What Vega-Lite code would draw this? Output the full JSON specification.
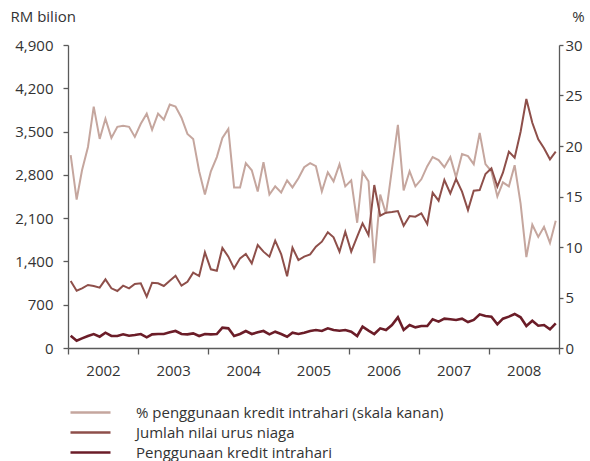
{
  "$schema": "https://vega.github.io/schema/vega-lite/v6.json",
  "autosize": {"type": "none"},
  "width": 491,
  "height": 303,
  "padding": {"left": 68, "top": 45, "right": 31, "bottom": 113},
  "background": "white",
  "config": {
    "view": {"stroke": null},
    "font": "Open Sans",
    "axis": {
      "domainColor": "#5a5a5a",
      "domainWidth": 1.3,
      "tickColor": "#5a5a5a",
      "tickWidth": 1.3,
      "tickSize": 5,
      "labelFont": "Open Sans",
      "labelFontSize": 15,
      "labelColor": "#333333",
      "titleFont": "Open Sans",
      "titleFontSize": 15,
      "titleFontWeight": "normal",
      "titleColor": "#333333",
      "grid": false
    }
  },
  "data": {
    "values": [
      {"d": "2002-01-15", "p": 19.1, "j": 1083, "k": 199},
      {"d": "2002-02-15", "p": 14.7, "j": 927, "k": 118},
      {"d": "2002-03-15", "p": 17.6, "j": 965, "k": 156},
      {"d": "2002-04-15", "p": 19.9, "j": 1019, "k": 194},
      {"d": "2002-05-15", "p": 23.9, "j": 1003, "k": 226},
      {"d": "2002-06-15", "p": 20.7, "j": 976, "k": 183},
      {"d": "2002-07-15", "p": 22.7, "j": 1110, "k": 248},
      {"d": "2002-08-15", "p": 20.8, "j": 965, "k": 194},
      {"d": "2002-09-15", "p": 21.9, "j": 922, "k": 194},
      {"d": "2002-10-15", "p": 22.0, "j": 1008, "k": 221},
      {"d": "2002-11-15", "p": 21.9, "j": 965, "k": 199},
      {"d": "2002-12-15", "p": 20.9, "j": 1035, "k": 210},
      {"d": "2003-01-15", "p": 22.2, "j": 1046, "k": 226},
      {"d": "2003-02-15", "p": 23.2, "j": 830, "k": 172},
      {"d": "2003-03-15", "p": 21.6, "j": 1056, "k": 221},
      {"d": "2003-04-15", "p": 23.2, "j": 1046, "k": 226},
      {"d": "2003-05-15", "p": 22.6, "j": 1003, "k": 226},
      {"d": "2003-06-15", "p": 24.1, "j": 1088, "k": 253},
      {"d": "2003-07-15", "p": 23.9, "j": 1169, "k": 275},
      {"d": "2003-08-15", "p": 22.8, "j": 1008, "k": 226},
      {"d": "2003-09-15", "p": 21.2, "j": 1072, "k": 221},
      {"d": "2003-10-15", "p": 20.7, "j": 1218, "k": 237},
      {"d": "2003-11-15", "p": 17.5, "j": 1164, "k": 194},
      {"d": "2003-12-15", "p": 15.2, "j": 1547, "k": 226},
      {"d": "2004-01-15", "p": 17.5, "j": 1272, "k": 221},
      {"d": "2004-02-15", "p": 18.9, "j": 1250, "k": 226},
      {"d": "2004-03-15", "p": 20.8, "j": 1620, "k": 329},
      {"d": "2004-04-15", "p": 21.7, "j": 1477, "k": 318},
      {"d": "2004-05-15", "p": 15.9, "j": 1288, "k": 194},
      {"d": "2004-06-15", "p": 15.9, "j": 1450, "k": 226},
      {"d": "2004-07-15", "p": 18.3, "j": 1520, "k": 275},
      {"d": "2004-08-15", "p": 17.6, "j": 1369, "k": 226},
      {"d": "2004-09-15", "p": 15.5, "j": 1666, "k": 253},
      {"d": "2004-10-15", "p": 18.4, "j": 1558, "k": 275},
      {"d": "2004-11-15", "p": 15.2, "j": 1477, "k": 221},
      {"d": "2004-12-15", "p": 16.0, "j": 1736, "k": 264},
      {"d": "2005-01-15", "p": 15.4, "j": 1520, "k": 226},
      {"d": "2005-02-15", "p": 16.6, "j": 1160, "k": 183},
      {"d": "2005-03-15", "p": 15.9, "j": 1622, "k": 248},
      {"d": "2005-04-15", "p": 16.8, "j": 1423, "k": 226},
      {"d": "2005-05-15", "p": 17.9, "j": 1477, "k": 248},
      {"d": "2005-06-15", "p": 18.3, "j": 1515, "k": 275},
      {"d": "2005-07-15", "p": 18.0, "j": 1638, "k": 291},
      {"d": "2005-08-15", "p": 15.5, "j": 1719, "k": 275},
      {"d": "2005-09-15", "p": 17.4, "j": 1871, "k": 318},
      {"d": "2005-10-15", "p": 16.5, "j": 1790, "k": 291},
      {"d": "2005-11-15", "p": 18.2, "j": 1558, "k": 280},
      {"d": "2005-12-15", "p": 16.0, "j": 1881, "k": 291},
      {"d": "2006-01-15", "p": 16.6, "j": 1558, "k": 264},
      {"d": "2006-02-15", "p": 12.4, "j": 1800, "k": 194},
      {"d": "2006-03-15", "p": 17.4, "j": 2016, "k": 345},
      {"d": "2006-04-15", "p": 16.5, "j": 1827, "k": 280},
      {"d": "2006-05-15", "p": 8.4, "j": 2636, "k": 226},
      {"d": "2006-06-15", "p": 15.2, "j": 2140, "k": 318},
      {"d": "2006-07-15", "p": 13.3, "j": 2188, "k": 291},
      {"d": "2006-08-15", "p": 17.7, "j": 2199, "k": 372},
      {"d": "2006-09-15", "p": 22.1, "j": 2215, "k": 496},
      {"d": "2006-10-15", "p": 15.6, "j": 1978, "k": 291},
      {"d": "2006-11-15", "p": 17.5, "j": 2134, "k": 372},
      {"d": "2006-12-15", "p": 16.0, "j": 2123, "k": 334},
      {"d": "2007-01-15", "p": 16.7, "j": 2178, "k": 356},
      {"d": "2007-02-15", "p": 18.0, "j": 2005, "k": 356},
      {"d": "2007-03-15", "p": 18.9, "j": 2511, "k": 464},
      {"d": "2007-04-15", "p": 18.6, "j": 2382, "k": 426},
      {"d": "2007-05-15", "p": 17.9, "j": 2717, "k": 474},
      {"d": "2007-06-15", "p": 18.9, "j": 2501, "k": 464},
      {"d": "2007-07-15", "p": 16.9, "j": 2733, "k": 453},
      {"d": "2007-08-15", "p": 19.2, "j": 2528, "k": 474},
      {"d": "2007-09-15", "p": 19.0, "j": 2231, "k": 420},
      {"d": "2007-10-15", "p": 18.2, "j": 2544, "k": 453},
      {"d": "2007-11-15", "p": 21.3, "j": 2555, "k": 544},
      {"d": "2007-12-15", "p": 18.2, "j": 2814, "k": 517},
      {"d": "2008-01-15", "p": 17.5, "j": 2906, "k": 507},
      {"d": "2008-02-15", "p": 15.0, "j": 2609, "k": 383},
      {"d": "2008-03-15", "p": 16.4, "j": 2835, "k": 474},
      {"d": "2008-04-15", "p": 16.0, "j": 3175, "k": 507},
      {"d": "2008-05-15", "p": 18.1, "j": 3077, "k": 550},
      {"d": "2008-06-15", "p": 14.3, "j": 3498, "k": 496},
      {"d": "2008-07-15", "p": 9.0, "j": 4026, "k": 356},
      {"d": "2008-08-15", "p": 12.2, "j": 3643, "k": 442},
      {"d": "2008-09-15", "p": 11.0, "j": 3374, "k": 361},
      {"d": "2008-10-15", "p": 12.0, "j": 3229, "k": 372},
      {"d": "2008-11-15", "p": 10.4, "j": 3051, "k": 302},
      {"d": "2008-12-15", "p": 12.6, "j": 3175, "k": 399}
    ]
  },
  "encoding": {
    "x": {
      "field": "d",
      "type": "temporal",
      "scale": {
        "type": "utc",
        "domain": [
          {"year": 2002, "month": 1, "date": 1, "utc": true},
          {"year": 2009, "month": 1, "date": 1, "utc": true}
        ]
      },
      "axis": {
        "title": null,
        "values": [
          {"year": 2002, "month": 1, "date": 1, "utc": true},
          {"year": 2003, "month": 1, "date": 1, "utc": true},
          {"year": 2004, "month": 1, "date": 1, "utc": true},
          {"year": 2005, "month": 1, "date": 1, "utc": true},
          {"year": 2006, "month": 1, "date": 1, "utc": true},
          {"year": 2007, "month": 1, "date": 1, "utc": true},
          {"year": 2008, "month": 1, "date": 1, "utc": true},
          {"year": 2009, "month": 1, "date": 1, "utc": true}
        ],
        "format": "%Y",
        "formatType": "utc",
        "labelExpr": "datum.label == '2009' ? '' : datum.label",
        "labelOffset": 35,
        "labelAlign": "center",
        "labelPadding": 9,
        "tickSize": 6,
        "labelFlush": false,
        "labelOverlap": false
      }
    }
  },
  "layer": [
    {
      "mark": {"type": "line", "strokeWidth": 2},
      "encoding": {
        "y": {
          "field": "p",
          "type": "quantitative",
          "scale": {"domain": [0, 30], "nice": false},
          "axis": {
            "orient": "right",
            "values": [0, 5, 10, 15, 20, 25, 30],
            "title": "%",
            "titleAngle": 0,
            "titleAlign": "center",
            "titleBaseline": "alphabetic",
            "titleX": 19,
            "titleY": -24,
            "labelPadding": 2,
            "tickSize": 4
          }
        },
        "color": {
          "datum": "p",
          "type": "nominal",
          "scale": {
            "domain": ["p", "j", "k"],
            "range": ["#c5a69e", "#8e4f4a", "#6b1d28"]
          },
          "legend": {
            "orient": "none",
            "legendX": 15,
            "legendY": 360,
            "padding": 0,
            "title": null,
            "symbolType": "M-4,0L4,0",
            "symbolSize": 100,
            "symbolStrokeWidth": 2.5,
            "labelFont": "Open Sans",
            "labelFontSize": 15,
            "labelColor": "#333333",
            "labelOffset": 38,
            "rowPadding": 4,
            "labelLimit": 500,
            "labelExpr": "datum.value == 'p' ? '% penggunaan kredit intrahari (skala kanan)' : datum.value == 'j' ? 'Jumlah nilai urus niaga' : 'Penggunaan kredit intrahari'"
          }
        }
      }
    },
    {
      "mark": {"type": "line", "strokeWidth": 2},
      "encoding": {
        "y": {
          "field": "j",
          "type": "quantitative",
          "scale": {"domain": [0, 4900], "nice": false},
          "axis": {
            "orient": "left",
            "values": [0, 700, 1400, 2100, 2800, 3500, 4200, 4900],
            "format": ",d",
            "title": "RM bilion",
            "titleAngle": 0,
            "titleAlign": "left",
            "titleBaseline": "alphabetic",
            "titleX": -58,
            "titleY": -24,
            "labelPadding": 10,
            "tickSize": 5
          }
        },
        "color": {"datum": "j", "type": "nominal"}
      }
    },
    {
      "mark": {"type": "line", "strokeWidth": 2.6},
      "encoding": {
        "y": {
          "field": "k",
          "type": "quantitative",
          "scale": {"domain": [0, 4900], "nice": false},
          "axis": null
        },
        "color": {"datum": "k", "type": "nominal"}
      }
    }
  ],
  "resolve": {"scale": {"y": "independent"}}
}
